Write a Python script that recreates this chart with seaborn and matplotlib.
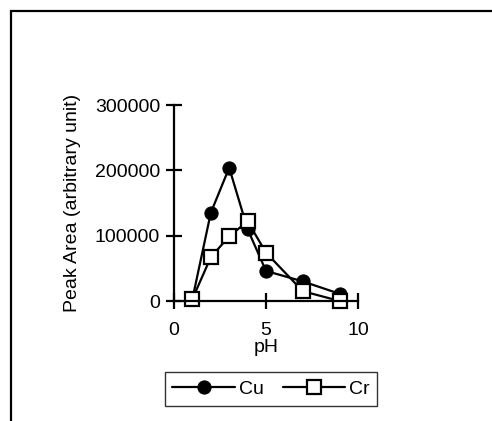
import matplotlib
matplotlib.use("Agg")
import matplotlib.pyplot as plt
import seaborn as sns
import pandas as pd
from matplotlib.patches import Rectangle

ph = [1, 2, 3, 4, 5, 7, 9]
cu = [3000, 135000, 204000, 110000, 46000, 30000, 11000]
cr = [3000, 67000, 99000, 122000, 74000, 15000, 0]
series_names = ["Cu", "Cr"]
x_ticks = [0, 5, 10]
y_ticks = [0, 100000, 200000, 300000]

sns.set_theme(style="white")
plt.rcParams["font.family"] = ["Liberation Sans", "DejaVu Sans"]
plt.rcParams["font.size"] = 14
plt.rcParams["text.color"] = "black"
plt.rcParams["axes.labelcolor"] = "black"

fig = plt.figure(figsize=(4.92, 4.21), dpi=100)
ax = fig.add_axes([174/492, 1-301/421, (358-174)/492, (301-105)/421])

df = pd.DataFrame({"pH": ph, "Cu": cu, "Cr": cr})
sns.lineplot(data=df, x="pH", y="Cu", ax=ax, color="black", lw=1.6,
             marker="o", markersize=9.5, markerfacecolor="black",
             markeredgecolor="black", label=series_names[0])
sns.lineplot(data=df, x="pH", y="Cr", ax=ax, color="black", lw=1.6,
             marker="s", markersize=9.5, markerfacecolor="white",
             markeredgecolor="black", markeredgewidth=1.6, label=series_names[1])

ax.set_xlim(0, 10)
ax.set_ylim(0, 300000)
ax.set_xticks(x_ticks)
ax.set_yticks(y_ticks)
ax.set_yticklabels([str(v) for v in y_ticks])
for s in ["top", "right"]:
    ax.spines[s].set_visible(False)
for s in ["left", "bottom"]:
    ax.spines[s].set_color("black")
    ax.spines[s].set_linewidth(1.6)
ax.tick_params(axis="both", which="major", bottom=True, left=True,
               direction="inout", length=12, width=1.6,
               colors="black", labelsize=14, labelcolor="black")
ax.tick_params(axis="y", pad=4)
ax.tick_params(axis="x", pad=9)
for l in ax.lines:
    l.set_clip_on(False)

ax.set_xlabel("pH", fontsize=14, labelpad=0, color="black")
ax.set_ylabel("Peak Area (arbitrary unit)", fontsize=14, labelpad=10, color="black")

leg = ax.legend(loc="center", bbox_to_anchor=(271/492, 1-389/421),
                bbox_transform=fig.transFigure, ncol=2, frameon=True,
                fancybox=False, edgecolor="black", handlelength=3.2,
                handletextpad=0.2, columnspacing=1.0, borderpad=0.4,
                fontsize=14, labelcolor="black")
leg.get_frame().set_linewidth(1.0)

fig.patches.append(Rectangle((11/492, -0.05), 1.2, 1 - 11/421 + 0.05,
                             transform=fig.transFigure, fill=False,
                             edgecolor="black", linewidth=1.6))

fig.savefig("out.png", dpi=100)
